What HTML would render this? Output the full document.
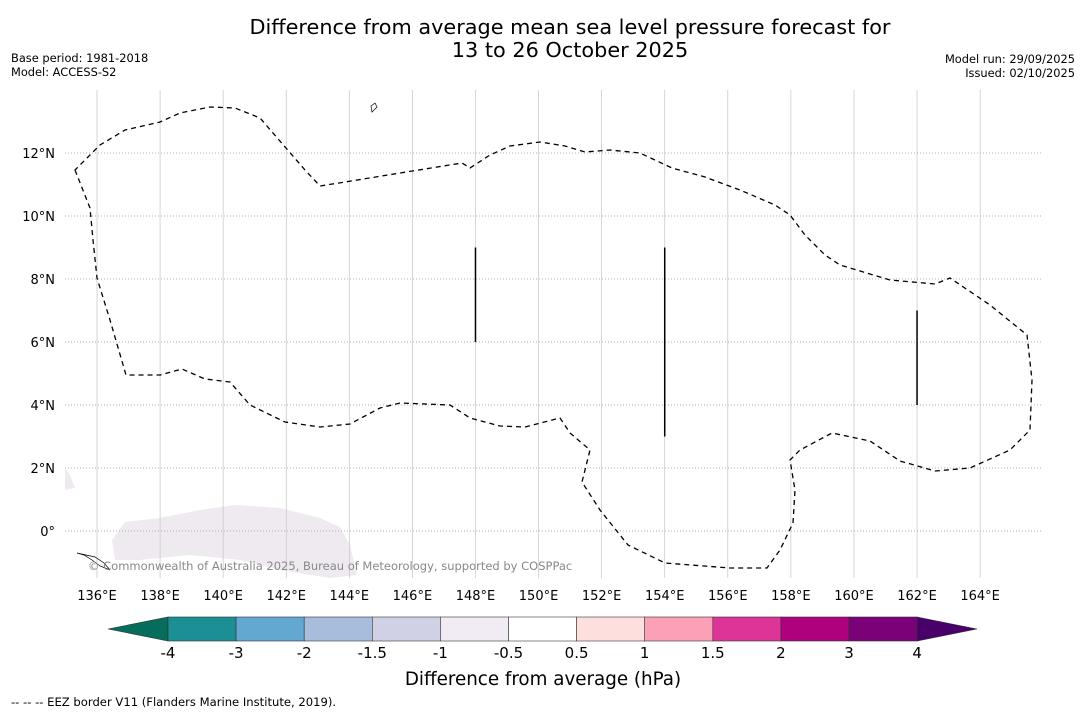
<!DOCTYPE html>
<html><head><meta charset="utf-8"><style>
body{margin:0;background:#fff;font-family:"DejaVu Sans","Liberation Sans",sans-serif;}
svg text{font-family:"DejaVu Sans","Liberation Sans",sans-serif;}
</style></head><body>
<svg id="c" width="1085" height="713" viewBox="0 0 1085 713" xmlns="http://www.w3.org/2000/svg">
<rect width="1085" height="713" fill="#fff"/>
<text x="570" y="34" font-size="20.8" text-anchor="middle">Difference from average mean sea level pressure forecast for</text>
<text x="570" y="57" font-size="20.8" text-anchor="middle">13 to 26 October 2025</text>
<text x="11" y="62" font-size="11.4">Base period: 1981-2018</text>
<text x="11" y="76" font-size="11.4">Model: ACCESS-S2</text>
<text x="1075" y="63" font-size="11.4" text-anchor="end">Model run: 29/09/2025</text>
<text x="1075" y="77" font-size="11.4" text-anchor="end">Issued: 02/10/2025</text>
<g id="map">
<polygon points="112,540 125,522 160,518 200,510 235,505 280,508 320,518 340,527 350,545 357,575 330,578 280,570 240,560 190,555 140,560 115,560" fill="#efeaf0"/>
<polygon points="65,468 70,475 75,488 65,490" fill="#efeaf0"/>
<g id="grid"></g>
<path d="M75,170 L90,208 L93,240 L97,278 L110,320 L126,375 L160,375 L182,369 L205,379 L230,382 L250,405 L285,422 L320,427 L350,424 L380,408 L400,403 L450,405 L470,418 L500,426 L525,427 L560,418 L570,433 L590,450 L582,482 L600,510 L628,545 L665,563 L730,568 L767,568 L780,550 L793,523 L795,490 L790,460 L800,450 L832,433 L870,441 L900,461 L935,471 L970,468 L1010,450 L1030,430 L1032,380 L1027,335 L990,305 L950,278 L935,284 L890,280 L840,265 L825,255 L805,235 L790,215 L775,205 L740,190 L705,177 L672,168 L640,153 L610,150 L585,152 L565,146 L540,142 L510,146 L490,155 L470,168 L462,163 L400,173 L345,182 L320,186 L305,170 L260,118 L235,108 L210,107 L180,113 L160,122 L125,130 L100,145 L85,160 Z" fill="none" stroke="#000" stroke-width="1.3" stroke-dasharray="5,4"/>
<g id="segs" stroke="#000" stroke-width="1.5"></g>
<path d="M77,553 L84,555 L92,560 L100,566 L110,570 L104,563 L95,557 Z" fill="none" stroke="#000" stroke-width="0.7"/>
<path d="M371,106 L375,103 L377,107 L372,112 Z" fill="none" stroke="#000" stroke-width="0.7"/>
<text x="88" y="570" font-size="11.5" fill="#888">© Commonwealth of Australia 2025, Bureau of Meteorology, supported by COSPPac</text>
</g>
<g id="cbar"></g>
<text x="543" y="685" font-size="18.3" text-anchor="middle">Difference from average (hPa)</text>
<text x="11" y="706" font-size="11.6">--  --  -- EEZ border V11 (Flanders Marine Institute, 2019).</text>
</svg>
<script>
const lonTicks=[136,138,140,142,144,146,148,150,152,154,156,158,160,162,164];
const latTicks=[0,2,4,6,8,10,12];
const segLon=[148,154,162];
const segLat0=[6,3,4];
const segLat1=[9,9,7];
const cbLabels=["-4","-3","-2","-1.5","-1","-0.5","0.5","1","1.5","2","3","4"];
const cbColors=["#1b8f94","#63a8d0","#a6bddc","#d0d1e5","#f1ecf3","#ffffff","#fde0dd","#fba0b6","#dd3497","#ae017e","#7a0177"];
const X=lon=>97+(lon-136)*31.54;
const Y=lat=>531-lat*31.5;
const NS="http://www.w3.org/2000/svg";
const svg=document.getElementById('c');
function mk(t,a,p){const e=document.createElementNS(NS,t);for(const k in a)e.setAttribute(k,a[k]);p.appendChild(e);return e;}
const grid=document.getElementById('grid');
lonTicks.forEach(l=>{
 const ln=mk('line',{x1:X(l),x2:X(l),y1:90,y2:578,stroke:'#c4c4c4','stroke-width':0.7},grid);
 
 
 const t=mk('text',{x:X(l),y:600,'font-size':13,'text-anchor':'middle'},svg);
 t.textContent=l+'°E';
 
 
});
latTicks.forEach(l=>{
 const ln=mk('line',{x1:65,x2:1042,y1:Y(l),y2:Y(l),stroke:'#999','stroke-width':0.8,'stroke-dasharray':'1,2'},grid);
 
 
 const t=mk('text',{x:55,y:Y(l)+5,'font-size':13,'text-anchor':'end'},svg);
 t.textContent=l===0?'0°':l+'°N';
 
 
});
const segs=document.getElementById('segs');
segLon.forEach((l,i)=>{
 const s=mk('line',{x1:X(l),x2:X(l),y1:Y(segLat1[i]),y2:Y(segLat0[i])},segs);
 
 
});
const cb=document.getElementById('cbar');
const x0=168,w=68.1,y0=617,h=24;
const la=mk('polygon',{points:`108,629 ${x0},${y0} ${x0},${y0+h}`,fill:'#066d5d',stroke:'#333','stroke-width':0.6},cb);


cbColors.forEach((c,i)=>{
 const r=mk('rect',{x:x0+i*w,y:y0,width:w,height:h,fill:c,stroke:'#333','stroke-width':0.6},cb);
 
 
});
const xe=x0+cbColors.length*w;
const ra=mk('polygon',{points:`${xe},${y0} 977,629 ${xe},${y0+h}`,fill:'#49006a',stroke:'#333','stroke-width':0.6},cb);


cbLabels.forEach((s,i)=>{
 const t=mk('text',{x:x0+i*w,y:658,'font-size':15,'text-anchor':'middle'},cb);
 t.textContent=s;
 
 
});
</script>
</body></html>
